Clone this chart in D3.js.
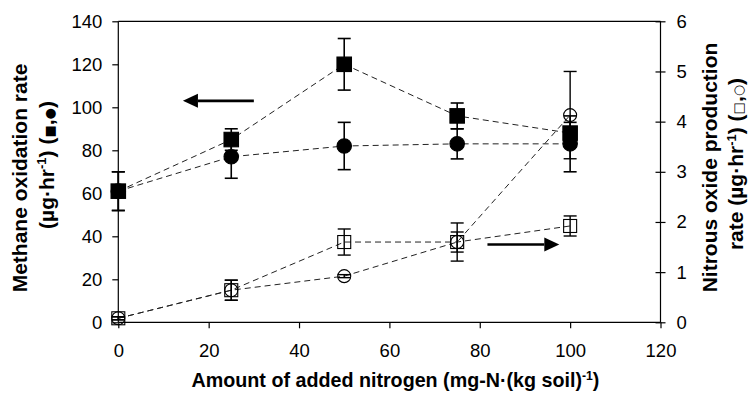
<!DOCTYPE html>
<html>
<head>
<meta charset="utf-8">
<script src="https://cdn.jsdelivr.net/npm/d3@7"></script>
<style>
  html, body { margin: 0; padding: 0; background: #fff; }
  svg { display: block; font-family: "Liberation Sans", Arial, sans-serif; }
</style>
</head>
<body>
<svg id="chart" width="749" height="399"></svg>
<script>
// ---------- data ----------
const nitrogen = [0, 25, 50, 75, 100];
// Methane oxidation rate (left axis)
const ch4Square = [61, 85, 120, 96, 88];
const ch4SquareErr = [9, 5, 12, 6, 5];
const ch4Circle = [61, 77, 82, 83, 83];
const ch4CircleErr = [9, 10, 11, 7, 13];
// Nitrous oxide production rate (right axis)
const n2oSquare = [0.08, 0.64, 1.6, 1.6, 1.92];
const n2oSquareErr = [0.03, 0.2, 0.26, 0.2, 0.2];
const n2oCircle = [0.08, 0.64, 0.92, 1.6, 4.13];
const n2oCircleErr = [0.03, 0.2, 0.03, 0.38, 0.87];
const xTicks = [0, 20, 40, 60, 80, 100, 120];
const yLeftTicks = [0, 20, 40, 60, 80, 100, 120, 140];
const yRightTicks = [0, 1, 2, 3, 4, 5, 6];
// annotation arrows (data coordinates): [xFrom, xTo, y]
const arrowLeft = [30, 14.3, 103];
const arrowRight = [81.7, 97.6, 1.55];

// ---------- layout ----------
const svg = d3.select("#chart");
const x = d3.scaleLinear().domain([0, 120]).range([118.3, 660.5]);
const yL = d3.scaleLinear().domain([0, 140]).range([322.3, 21.3]);
const yR = d3.scaleLinear().domain([0, 6]).range([322.3, 21.3]);

const tickFont = 18.5;

// top border
svg.append("line").attr("x1", x(0)).attr("x2", x(120)).attr("y1", yL(140)).attr("y2", yL(140))
  .attr("stroke", "#000").attr("stroke-width", 1.2);

// x axis
const xAxis = svg.append("g").attr("transform", `translate(0,${yL(0)})`)
  .call(d3.axisBottom(x).tickValues(xTicks).tickSize(6).tickPadding(16).tickFormat(d3.format("d")));
// left axis
const yAxisL = svg.append("g").attr("transform", `translate(${x(0)},0)`)
  .call(d3.axisLeft(yL).tickValues(yLeftTicks).tickSize(6).tickPadding(10).tickFormat(d3.format("d")));
// right axis
const yAxisR = svg.append("g").attr("transform", `translate(${x(120)},0)`)
  .call(d3.axisRight(yR).tickValues(yRightTicks).tickSize(5).tickPadding(11).tickFormat(d3.format("d")));
yAxisR.selectAll(".tick line").attr("x1", -5);

[xAxis, yAxisL, yAxisR].forEach(g => {
  g.select(".domain").attr("stroke", "#000").attr("stroke-width", 1.2);
  g.selectAll(".tick line").attr("stroke", "#000").attr("stroke-width", 1.2);
  g.selectAll(".tick text").attr("font-size", tickFont).attr("fill", "#000")
    .attr("font-family", "Liberation Sans, Arial, sans-serif");
});
xAxis.select(".domain").attr("d", `M${x(0)},0H${x(120)}`);
yAxisL.select(".domain").attr("d", `M0,${yL(0)}V${yL(140)}`);
yAxisR.select(".domain").attr("d", `M0,${yR(0)}V${yR(6)}`);

// ---------- dashed series lines ----------
function dashed(vals, yS) {
  const line = d3.line().x((d, i) => x(nitrogen[i])).y(d => yS(d));
  svg.append("path").attr("d", line(vals)).attr("fill", "none")
    .attr("stroke", "#222").attr("stroke-width", 1).attr("stroke-dasharray", "6,4");
}
dashed(ch4Square, yL);
dashed(ch4Circle, yL);
dashed(n2oSquare, yR);
dashed(n2oCircle, yR);

// ---------- error bars ----------
function errBars(vals, errs, yS, sw) {
  const g = svg.append("g").attr("stroke", "#000").attr("stroke-width", sw);
  vals.forEach((v, i) => {
    const cx = x(nitrogen[i]);
    const t = yS(v + errs[i]), b = yS(v - errs[i]);
    g.append("line").attr("x1", cx).attr("x2", cx).attr("y1", t).attr("y2", b);
    g.append("line").attr("x1", cx - 6.5).attr("x2", cx + 6.5).attr("y1", t).attr("y2", t);
    g.append("line").attr("x1", cx - 6.5).attr("x2", cx + 6.5).attr("y1", b).attr("y2", b);
  });
}

// ---------- markers ----------
function squares(vals, yS, filled, size) {
  svg.append("g").selectAll("rect").data(vals).join("rect")
    .attr("x", (d, i) => x(nitrogen[i]) - size / 2).attr("y", d => yS(d) - size / 2)
    .attr("width", size).attr("height", size)
    .attr("fill", filled ? "#000" : "none").attr("stroke", "#000").attr("stroke-width", 1.1);
}
function circles(vals, yS, filled, size) {
  svg.append("g").selectAll("circle").data(vals).join("circle")
    .attr("cx", (d, i) => x(nitrogen[i])).attr("cy", d => yS(d)).attr("r", size / 2)
    .attr("fill", filled ? "#000" : "none").attr("stroke", "#000").attr("stroke-width", 1.1);
}

errBars(ch4Square, ch4SquareErr, yL, 1.6);
errBars(ch4Circle, ch4CircleErr, yL, 1.6);
squares(ch4Square, yL, true, 14.5);
circles(ch4Circle, yL, true, 14.5);
squares(n2oSquare, yR, false, 13);
circles(n2oCircle, yR, false, 13);
errBars(n2oSquare, n2oSquareErr, yR, 1.4);
errBars(n2oCircle, n2oCircleErr, yR, 1.4);

// ---------- arrows ----------
function arrow(a, yS) {
  const x0 = x(a[0]), x1 = x(a[1]), yy = yS(a[2]);
  const dir = Math.sign(x1 - x0);
  const hl = 15, hw = 7;
  svg.append("line").attr("x1", x0).attr("x2", x1 - dir * hl).attr("y1", yy).attr("y2", yy)
    .attr("stroke", "#000").attr("stroke-width", 2.6);
  svg.append("path")
    .attr("d", `M${x1},${yy}L${x1 - dir * hl},${yy - hw}L${x1 - dir * hl},${yy + hw}Z`)
    .attr("fill", "#000");
}
arrow(arrowLeft, yL);
arrow(arrowRight, yR);

// ---------- axis titles ----------
function supText(sel, parts) {
  parts.forEach(p => {
    const t = sel.append("tspan").text(p.t);
    if (p.sup) t.attr("font-size", "0.62em").attr("dy", "-0.55em");
    if (p.after) t.attr("dy", "0.341em");
    if (p.sym) t.attr("font-size", "0.62em").attr("font-weight", "normal")
      .attr("font-family", "DejaVu Sans, sans-serif");
  });
}
const xt = svg.append("text").attr("x", 395.5).attr("y", 386.7).attr("text-anchor", "middle")
  .attr("font-size", 19.7).attr("font-weight", "bold");
supText(xt, [{ t: "Amount of added nitrogen (mg-N·(kg soil)" }, { t: "-1", sup: true }, { t: ")", after: true }]);

function vLabel(cx, cy, parts) {
  const t = svg.append("text").attr("transform", `translate(${cx},${cy}) rotate(-90)`)
    .attr("text-anchor", "middle").attr("font-size", 21).attr("font-weight", "bold");
  supText(t, parts);
}
vLabel(26.7, 178, [{ t: "Methane oxidation rate" }]);
vLabel(53.5, 165, [{ t: "(µg·hr" }, { t: "-1", sup: true }, { t: ") (", after: true },
  { t: "■", sym: true }, { t: "," }, { t: "●", sym: true }, { t: ")" }]);
vLabel(716.7, 167.5, [{ t: "Nitrous oxide production" }]);
vLabel(743.3, 164, [{ t: "rate (µg·hr" }, { t: "-1", sup: true }, { t: ") (", after: true },
  { t: "□", sym: true }, { t: "," }, { t: "○", sym: true }, { t: ")" }]);
</script>
</body>
</html>
